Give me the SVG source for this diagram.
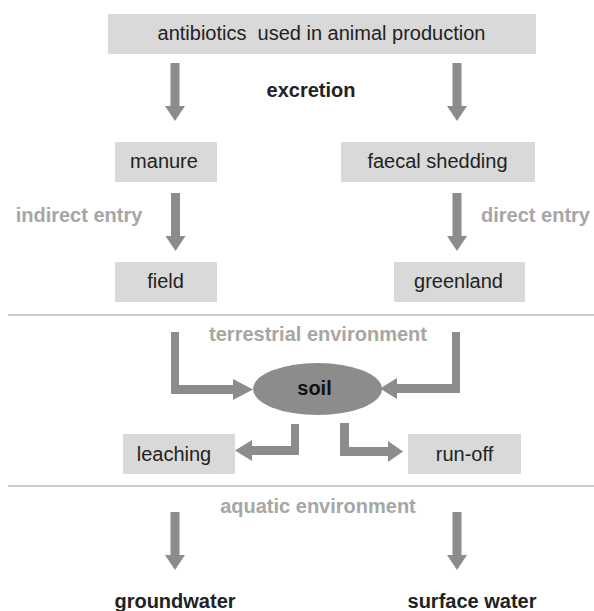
<svg xmlns="http://www.w3.org/2000/svg" xmlns:xlink="http://www.w3.org/1999/xlink" width="594" height="611" viewBox="0 0 594 611">
<style>
text{font-family:"Liberation Sans",Arial,sans-serif;font-size:20px;text-anchor:middle}
.box{fill:#d9d9d9}
.lbl{fill:#222}
.b{font-weight:bold}
.g{fill:#a6a6a6;font-weight:bold}
.arr{fill:#8c8c8c}
.sep{stroke:#cccccc;stroke-width:2;fill:none}
</style>
<defs>
<path id="down" d="M-4.5,0 H4.5 V43 H10 L0,58 L-10,43 H-4.5 Z"/>
</defs>
<rect width="594" height="611" fill="#ffffff"/>

<g id="separators">
<line class="sep" x1="8" y1="315" x2="594" y2="315"/>
<line class="sep" x1="8" y1="486" x2="594" y2="486"/>
</g>

<g id="connectors" class="arr">
<use xlink:href="#down" href="#down" x="175" y="63"/>
<use xlink:href="#down" href="#down" x="457" y="63"/>
<use xlink:href="#down" href="#down" x="175.5" y="193"/>
<use xlink:href="#down" href="#down" x="457" y="193"/>
<use xlink:href="#down" href="#down" x="175" y="512"/>
<use xlink:href="#down" href="#down" x="457" y="512"/>
<path d="M171,332 L179,332 L179,385 L233,385 L233,379 L253,389.5 L233,400 L233,394 L171,394 Z"/>
<path d="M460,332 L452,332 L452,384 L397,384 L397,378 L380,388.5 L397,399 L397,393 L460,393 Z"/>
<path d="M299,424 L291,424 L291,446 L252,446 L252,440 L235,450.5 L252,461 L252,455 L299,455 Z"/>
<path d="M340,423 L349,423 L349,447 L388,447 L388,441 L403,451.5 L388,462 L388,456 L340,456 Z"/>
</g>

<g id="antibiotics">
<rect class="box" x="108" y="14" width="428" height="40"/>
<text class="lbl" x="321.5" y="40" xml:space="preserve">antibiotics  used in animal production</text>
</g>
<g id="excretion"><text class="lbl b" x="311" y="97">excretion</text></g>
<g id="manure">
<rect class="box" x="115" y="142" width="102" height="40"/>
<text class="lbl" x="164" y="168">manure</text>
</g>
<g id="faecal-shedding">
<rect class="box" x="341" y="142" width="194" height="40"/>
<text class="lbl" x="437.5" y="168">faecal shedding</text>
</g>
<g id="indirect-entry"><text class="g" x="79" y="222">indirect entry</text></g>
<g id="direct-entry"><text class="g" x="535.5" y="222">direct entry</text></g>
<g id="field">
<rect class="box" x="115" y="262" width="102" height="40"/>
<text class="lbl" x="165.5" y="288">field</text>
</g>
<g id="greenland">
<rect class="box" x="394" y="262" width="131" height="40"/>
<text class="lbl" x="458.5" y="288">greenland</text>
</g>
<g id="terrestrial"><text class="g" x="318" y="341">terrestrial environment</text></g>
<g id="soil">
<ellipse cx="317.5" cy="389" rx="64.5" ry="26" fill="#8c8c8c"/>
<text class="b" fill="#111" x="314.5" y="395">soil</text>
</g>
<g id="leaching">
<rect class="box" x="123" y="434" width="112" height="40"/>
<text class="lbl" x="174" y="461">leaching</text>
</g>
<g id="run-off">
<rect class="box" x="408" y="434" width="113" height="40"/>
<text class="lbl" x="464.5" y="461">run-off</text>
</g>
<g id="aquatic"><text class="g" x="318" y="513">aquatic environment</text></g>
<g id="groundwater"><text class="lbl b" x="175" y="608">groundwater</text></g>
<g id="surface-water"><text class="lbl b" x="472" y="608">surface water</text></g>
</svg>
